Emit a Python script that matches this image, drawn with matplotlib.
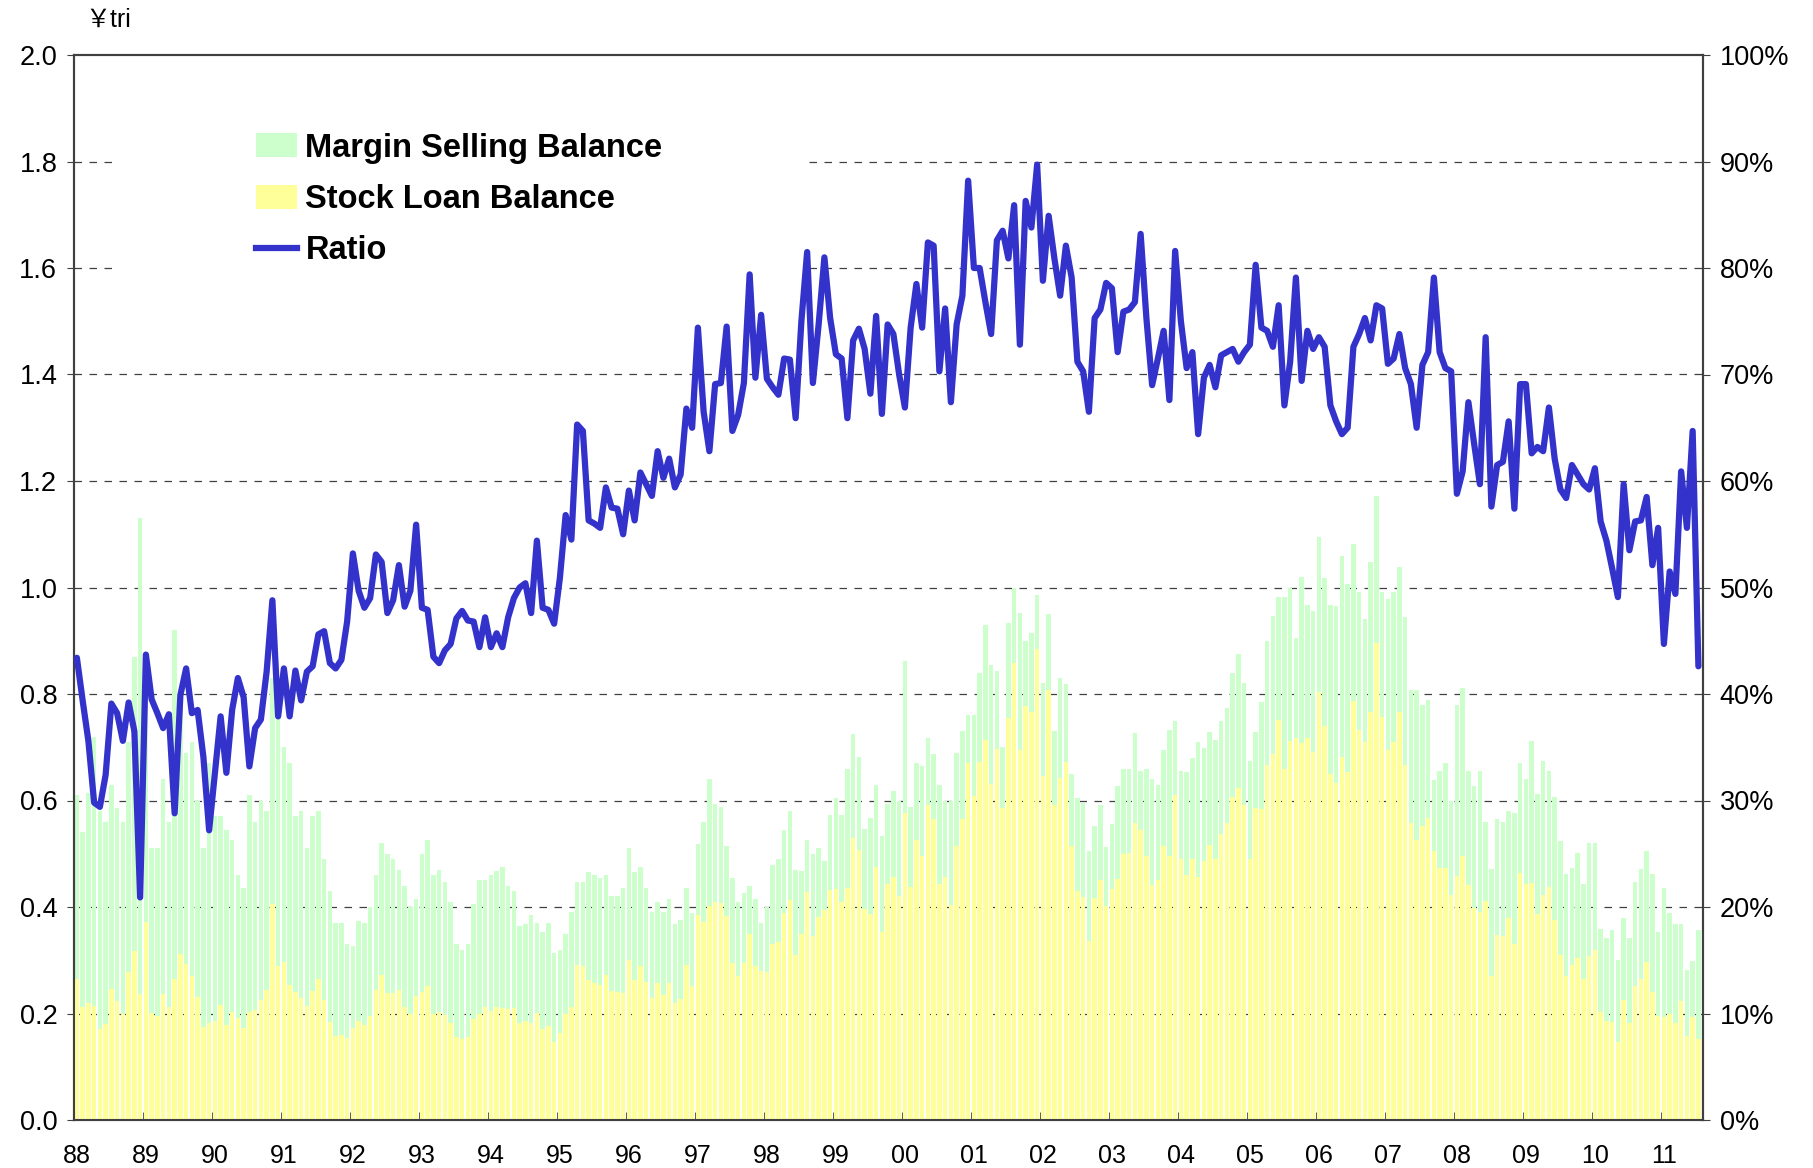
import matplotlib
matplotlib.use('Agg')
import matplotlib.pyplot as plt
import numpy as np
from matplotlib.patches import Patch, Rectangle
from matplotlib.lines import Line2D
from matplotlib.ticker import FuncFormatter

plt.rcParams['font.family'] = ['Liberation Sans', 'Noto Sans CJK JP', 'DejaVu Sans']

# monthly data, Jan 1988 - Jul 2011 (yen trillion / %)
margin_selling = [
    0.61, 0.54, 0.615, 0.72, 0.58, 0.56, 0.63, 0.585, 0.56, 0.71, 0.87, 1.13,      # 88
    0.85, 0.51, 0.51, 0.64, 0.56, 0.92, 0.78, 0.69, 0.71, 0.60, 0.51, 0.67,        # 89
    0.57, 0.57, 0.545, 0.525, 0.46, 0.435, 0.61, 0.56, 0.60, 0.58, 0.83, 0.765,    # 90
    0.70, 0.67, 0.57, 0.58, 0.51, 0.57, 0.58, 0.49, 0.43, 0.37, 0.37, 0.33,        # 91
    0.326, 0.373, 0.37, 0.40, 0.46, 0.52, 0.50, 0.49, 0.47, 0.44, 0.40, 0.415,     # 92
    0.50, 0.525, 0.46, 0.47, 0.447, 0.41, 0.33, 0.32, 0.33, 0.405, 0.45, 0.45,     # 93
    0.46, 0.467, 0.476, 0.44, 0.43, 0.365, 0.368, 0.385, 0.37, 0.353, 0.37, 0.314, # 94
    0.32, 0.35, 0.39, 0.447, 0.447, 0.465, 0.46, 0.455, 0.46, 0.42, 0.42, 0.435,   # 95
    0.51, 0.465, 0.476, 0.435, 0.39, 0.41, 0.39, 0.415, 0.368, 0.376, 0.435, 0.388, # 96
    0.518, 0.56, 0.64, 0.594, 0.588, 0.514, 0.455, 0.41, 0.427, 0.44, 0.415, 0.37, # 97
    0.40, 0.479, 0.49, 0.544, 0.58, 0.47, 0.467, 0.526, 0.50, 0.51, 0.486, 0.573,  # 98
    0.604, 0.573, 0.66, 0.724, 0.682, 0.547, 0.568, 0.63, 0.533, 0.594, 0.618, 0.60, # 99
    0.862, 0.588, 0.67, 0.665, 0.718, 0.688, 0.63, 0.60, 0.60, 0.69, 0.73, 0.76,   # 00
    0.76, 0.84, 0.93, 0.855, 0.843, 0.70, 0.933, 1.0, 0.953, 0.90, 0.914, 0.985,   # 01
    0.82, 0.95, 0.73, 0.83, 0.818, 0.65, 0.604, 0.596, 0.506, 0.553, 0.592, 0.512, # 02
    0.556, 0.627, 0.659, 0.659, 0.726, 0.655, 0.659, 0.641, 0.629, 0.694, 0.733, 0.749, # 03
    0.655, 0.653, 0.679, 0.709, 0.698, 0.729, 0.714, 0.749, 0.773, 0.839, 0.876, 0.82, # 04
    0.674, 0.729, 0.785, 0.90, 0.947, 0.982, 0.982, 1.0, 0.906, 1.02, 0.967, 0.956, # 05
    1.094, 1.018, 0.967, 0.965, 1.059, 1.006, 1.082, 0.992, 0.941, 1.047, 1.171, 0.992, # 06
    0.979, 0.991, 1.039, 0.945, 0.808, 0.808, 0.779, 0.788, 0.639, 0.656, 0.671, 0.60, # 07
    0.779, 0.812, 0.655, 0.627, 0.655, 0.559, 0.471, 0.565, 0.559, 0.58, 0.576, 0.671, # 08
    0.641, 0.712, 0.612, 0.674, 0.655, 0.606, 0.524, 0.462, 0.474, 0.502, 0.444, 0.521, # 09
    0.521, 0.359, 0.341, 0.356, 0.30, 0.379, 0.341, 0.447, 0.471, 0.506, 0.462, 0.353, # 10
    0.435, 0.388, 0.368, 0.368, 0.282, 0.298, 0.356,                               # 11
]

stock_loan = [
    0.265, 0.213, 0.219, 0.215, 0.171, 0.181, 0.246, 0.223, 0.199, 0.278, 0.318, 0.236,
    0.371, 0.201, 0.195, 0.236, 0.213, 0.265, 0.311, 0.293, 0.271, 0.231, 0.174, 0.182,
    0.186, 0.216, 0.178, 0.202, 0.191, 0.173, 0.203, 0.206, 0.226, 0.244, 0.405, 0.290,
    0.297, 0.254, 0.241, 0.229, 0.215, 0.243, 0.264, 0.225, 0.184, 0.157, 0.160, 0.154,
    0.173, 0.185, 0.178, 0.196, 0.244, 0.272, 0.238, 0.239, 0.245, 0.212, 0.199, 0.232,
    0.241, 0.251, 0.200, 0.202, 0.197, 0.183, 0.155, 0.153, 0.155, 0.190, 0.200, 0.212,
    0.204, 0.213, 0.211, 0.208, 0.211, 0.183, 0.185, 0.183, 0.201, 0.170, 0.177, 0.146,
    0.163, 0.199, 0.213, 0.292, 0.289, 0.262, 0.258, 0.253, 0.273, 0.242, 0.241, 0.239,
    0.301, 0.262, 0.289, 0.260, 0.229, 0.257, 0.235, 0.258, 0.219, 0.228, 0.291, 0.252,
    0.385, 0.372, 0.402, 0.410, 0.407, 0.383, 0.294, 0.271, 0.295, 0.349, 0.289, 0.280,
    0.278, 0.330, 0.334, 0.389, 0.414, 0.310, 0.350, 0.429, 0.346, 0.381, 0.394, 0.431,
    0.434, 0.410, 0.435, 0.530, 0.507, 0.396, 0.387, 0.476, 0.353, 0.444, 0.456, 0.420,
    0.577, 0.437, 0.526, 0.495, 0.592, 0.565, 0.443, 0.457, 0.404, 0.515, 0.565, 0.670,
    0.608, 0.672, 0.714, 0.631, 0.696, 0.585, 0.755, 0.859, 0.694, 0.777, 0.766, 0.884,
    0.646, 0.807, 0.591, 0.642, 0.672, 0.514, 0.430, 0.419, 0.336, 0.416, 0.451, 0.402,
    0.434, 0.452, 0.500, 0.501, 0.558, 0.545, 0.496, 0.442, 0.450, 0.514, 0.496, 0.611,
    0.491, 0.461, 0.490, 0.457, 0.487, 0.517, 0.491, 0.538, 0.557, 0.607, 0.624, 0.591,
    0.491, 0.585, 0.584, 0.667, 0.688, 0.751, 0.659, 0.712, 0.717, 0.708, 0.717, 0.692,
    0.804, 0.739, 0.649, 0.633, 0.682, 0.654, 0.786, 0.732, 0.709, 0.766, 0.896, 0.756,
    0.695, 0.709, 0.767, 0.667, 0.558, 0.525, 0.552, 0.568, 0.505, 0.473, 0.474, 0.422,
    0.458, 0.495, 0.441, 0.398, 0.391, 0.411, 0.271, 0.347, 0.345, 0.380, 0.331, 0.464,
    0.443, 0.446, 0.387, 0.423, 0.438, 0.376, 0.310, 0.270, 0.292, 0.304, 0.265, 0.308,
    0.319, 0.202, 0.186, 0.184, 0.147, 0.226, 0.182, 0.251, 0.265, 0.296, 0.241, 0.196,
    0.194, 0.200, 0.182, 0.224, 0.157, 0.193, 0.152,
]

ratio = [
    43.4, 39.4, 35.6, 29.8, 29.4, 32.4, 39.1, 38.2, 35.6, 39.2, 36.5, 20.9,
    43.7, 39.5, 38.2, 36.8, 38.1, 28.8, 39.9, 42.4, 38.2, 38.5, 34.1, 27.2,
    32.6, 37.9, 32.6, 38.5, 41.5, 39.7, 33.2, 36.8, 37.6, 42.1, 48.8, 37.9,
    42.4, 37.9, 42.2, 39.4, 42.1, 42.6, 45.6, 45.9, 42.9, 42.4, 43.2, 46.8,
    53.2, 49.7, 48.1, 49.0, 53.1, 52.4, 47.6, 48.8, 52.1, 48.2, 49.7, 55.9,
    48.1, 47.9, 43.5, 42.9, 44.1, 44.7, 47.1, 47.8, 46.9, 46.8, 44.4, 47.2,
    44.4, 45.7, 44.4, 47.2, 49.0, 50.0, 50.4, 47.6, 54.4, 48.1, 47.9, 46.6,
    50.9, 56.8, 54.5, 65.3, 64.7, 56.3, 56.0, 55.6, 59.4, 57.5, 57.4, 55.0,
    59.1, 56.3, 60.8, 59.7, 58.6, 62.8, 60.3, 62.1, 59.4, 60.6, 66.8, 65.0,
    74.4, 66.5, 62.8, 69.1, 69.2, 74.5, 64.7, 66.2, 69.2, 79.4, 69.7, 75.6,
    69.6, 68.8, 68.1, 71.5, 71.4, 65.9, 75.0, 81.5, 69.2, 74.7, 81.0, 75.3,
    71.9, 71.5, 65.9, 73.2, 74.3, 72.4, 68.2, 75.5, 66.3, 74.7, 73.8, 70.0,
    66.9, 74.4, 78.5, 74.4, 82.4, 82.1, 70.3, 76.2, 67.4, 74.7, 77.4, 88.2,
    80.0, 80.0, 76.8, 73.8, 82.6, 83.5, 80.9, 85.9, 72.8, 86.3, 83.8, 89.7,
    78.8, 84.9, 80.9, 77.4, 82.1, 79.1, 71.2, 70.3, 66.5, 75.3, 76.1, 78.6,
    78.1, 72.1, 75.9, 76.1, 76.8, 83.2, 75.3, 69.0, 71.5, 74.1, 67.6, 81.6,
    75.0, 70.6, 72.1, 64.4, 69.7, 70.9, 68.8, 71.8, 72.1, 72.4, 71.2, 72.1,
    72.8, 80.3, 74.4, 74.1, 72.6, 76.5, 67.1, 71.2, 79.1, 69.4, 74.1, 72.4,
    73.5, 72.6, 67.1, 65.6, 64.4, 65.0, 72.6, 73.8, 75.3, 73.2, 76.5, 76.2,
    71.0, 71.5, 73.8, 70.6, 69.1, 65.0, 70.9, 72.1, 79.1, 72.1, 70.6, 70.3,
    58.8, 60.9, 67.4, 63.5, 59.7, 73.5, 57.6, 61.5, 61.8, 65.6, 57.4, 69.1,
    69.1, 62.6, 63.2, 62.8, 66.9, 62.1, 59.2, 58.4, 61.5, 60.6, 59.7, 59.2,
    61.2, 56.2, 54.4, 51.8, 49.1, 59.7, 53.5, 56.2, 56.3, 58.5, 52.1, 55.6,
    44.7, 51.5, 49.4, 60.9, 55.6, 64.7, 42.6,
]

year_labels = ['88', '89', '90', '91', '92', '93', '94', '95', '96', '97', '98', '99',
               '00', '01', '02', '03', '04', '05', '06', '07', '08', '09', '10', '11']

GREEN = '#CCFFCC'
YELLOW = '#FFFF99'
BLUE = '#3333CC'

x = np.arange(len(margin_selling))

fig = plt.figure(figsize=(18.13, 11.68), dpi=100)
ax = fig.add_axes([74 / 1813, 48 / 1168, 1629 / 1813, 1065 / 1168])

ax.bar(x, margin_selling, width=0.78, color=GREEN, zorder=2)
ax.bar(x, stock_loan, width=0.78, color=YELLOW, zorder=3)

ax.set_xlim(-0.5, 282.8)
ax.set_ylim(0, 2.0)
for g in np.arange(0.2, 1.81, 0.2):
    ax.axhline(g, color='#404040', lw=0.9, ls=(0, (6, 6)), zorder=1)

# white legend background hides the grid
ax.add_patch(Rectangle((0.024, 0.785), 0.423, 0.165, transform=ax.transAxes,
                       facecolor='white', edgecolor='none', zorder=1.5))

ax.set_yticks(np.arange(0, 2.01, 0.2))
ax.yaxis.set_major_formatter(FuncFormatter(lambda v, p: f'{v:.1f}'))
ax.tick_params(axis='y', labelsize=19.5, length=5, direction='out', pad=7, color='#404040')

ax.set_xticks(np.arange(0, len(x), 12))
ax.set_xticklabels(year_labels)
ax.set_xticks(np.arange(-0.5, len(x), 12), minor=True)
ax.tick_params(axis='x', which='major', length=0, labelsize=18, pad=17)
ax.tick_params(axis='x', which='minor', length=6, direction='in', color='#404040')

for s in ax.spines.values():
    s.set_color('#404040')
    s.set_linewidth(1.5)

ax2 = ax.twinx()
ax2.plot(x, ratio, color=BLUE, lw=4.5, solid_joinstyle='round', solid_capstyle='round', zorder=4)
ax2.set_ylim(0, 100)
ax2.set_yticks(np.arange(0, 101, 10))
ax2.yaxis.set_major_formatter(FuncFormatter(lambda v, p: f'{v:.0f}%'))
ax2.tick_params(axis='y', labelsize=19.5, length=5, direction='out', pad=7, color='#404040')
for s in ax2.spines.values():
    s.set_color('#404040')
    s.set_linewidth(1.5)

handles = [Patch(facecolor=GREEN, edgecolor='none'),
           Patch(facecolor=YELLOW, edgecolor='none'),
           Line2D([], [], color=BLUE, lw=4.5)]
labels = ['Margin Selling Balance', 'Stock Loan Balance', 'Ratio']
ax2.legend(handles, labels, loc='upper left', bbox_to_anchor=(0.112, 0.927),
           frameon=False, prop={'weight': 'bold', 'size': 23.5},
           handlelength=1.25, handleheight=0.75, handletextpad=0.25,
           labelspacing=0.62, borderaxespad=0, borderpad=0)

fig.text(85 / 1813, 1 - 20 / 1168, '￥tri', fontsize=18, ha='left', va='center')

fig.savefig('out.png', dpi=100)
